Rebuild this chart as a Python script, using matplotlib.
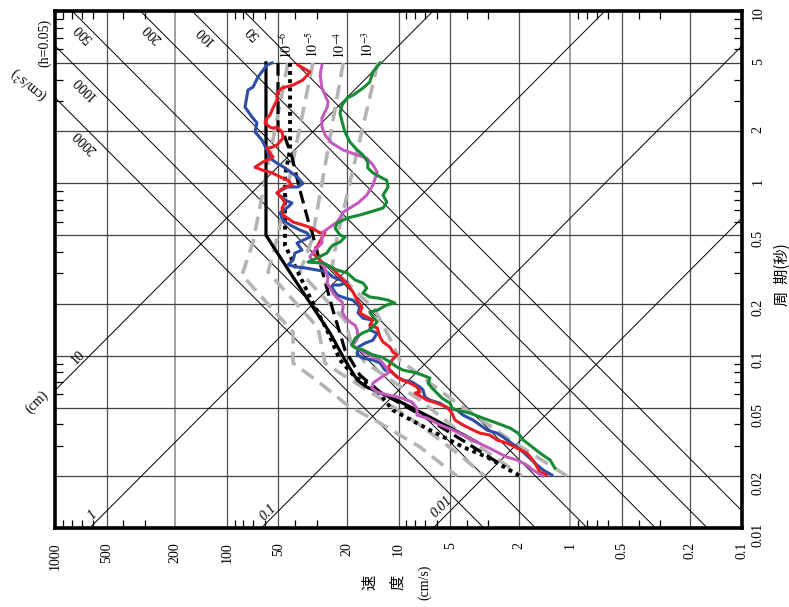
import numpy as np
import matplotlib
matplotlib.use("Agg")
import matplotlib.pyplot as plt
from matplotlib.ticker import LogLocator, NullFormatter

# 三重対数応答スペクトル (h=0.05)、図は90度回転した向き
plt.rcParams["font.family"] = ["Liberation Serif", "DejaVu Serif"]
plt.rcParams["mathtext.fontset"] = "stix"

# 軸目盛
vel_ticks = [1000, 500, 200, 100, 50, 20, 10, 5, 2, 1, 0.5, 0.2, 0.1]
vel_labels = ["1000", "500", "200", "100", "50", "20", "10", "5", "2", "1", "0.5", "0.2", "0.1"]
per_ticks = [10, 5, 2, 1, 0.5, 0.2, 0.1, 0.05, 0.02, 0.01]
per_labels = ["10", "5", "2", "1", "0.5", "0.2", "0.1", "0.05", "0.02", "0.01"]
vel_grid = [500, 200, 100, 50, 20, 10, 5, 2, 1, 0.5, 0.2]
per_grid = [5, 2, 1, 0.5, 0.2, 0.1, 0.05, 0.02]

# 斜線 (加速度 cm/s2, 変位 cm)
acc_lines = [50, 100, 200, 500, 1000, 2000]
disp_lines = [0.01, 0.1, 1, 10]

# 黒実線
black_solid_T = [5.0, 0.50, 0.374, 0.275, 0.191, 0.135, 0.0943, 0.0722, 0.0657, 0.0552, 0.0440, 0.0315]
black_solid_V = [59.1, 59.1, 49.0, 40.1, 31.5, 25.0, 20.5, 17.4, 15.3, 10.2, 6.56, 3.49]

# 黒破線
black_dash_T = [5.0, 2.04, 1.99, 1.42, 0.914, 0.558, 0.522, 0.314, 0.184, 0.108, 0.0772, 0.0615, 0.0423, 0.0303, 0.0226]
black_dash_V = [50.3, 50.3, 47.0, 41.7, 37.5, 32.8, 31.9, 27.9, 24.1, 20.5, 16.8, 12.8, 6.56, 3.83, 2.40]

# 黒点線
black_dot_T = [5.0, 1.56, 1.12, 0.438, 0.314, 0.219, 0.141, 0.0943, 0.0751, 0.0649, 0.0483, 0.0370, 0.0295, 0.0258, 0.0200]
black_dot_V = [42.8, 42.8, 45.8, 45.8, 39.0, 32.8, 26.1, 21.9, 17.9, 13.7, 10.8, 6.56, 4.21, 3.05, 1.96]

# 観測記録 (青)
blue_T = [5.0, 4.86, 4.14, 3.62, 3.48, 2.77, 2.43, 2.24, 1.99, 1.78, 1.56, 1.40, 1.31, 1.23, 1.09, 1.00,
          0.952, 0.952, 0.879, 0.800, 0.769, 0.729, 0.672, 0.612, 0.573, 0.536, 0.515, 0.488, 0.450, 0.410,
          0.394, 0.359, 0.336, 0.327, 0.323, 0.314, 0.306, 0.286, 0.275, 0.267, 0.257, 0.257, 0.247, 0.225,
          0.216, 0.210, 0.191, 0.177, 0.165, 0.161, 0.141, 0.135, 0.123, 0.118, 0.112, 0.101, 0.0969, 0.0943,
          0.0906, 0.0825, 0.0803, 0.0751, 0.0722, 0.0703, 0.0657, 0.0632, 0.0575, 0.0552, 0.0530, 0.0496,
          0.0483, 0.0452, 0.0423, 0.0396, 0.0370, 0.0355, 0.0337, 0.0315, 0.0295, 0.0276, 0.0254, 0.0232,
          0.0217, 0.0203]
blue_V = [54.5, 58.3, 65.8, 70.3, 75.2, 78.3, 71.3, 66.7, 68.5, 62.3, 58.3, 56.0, 51.0, 45.8, 39.0, 36.0,
          38.5, 44.6, 51.0, 45.8, 41.7, 44.0, 49.0, 47.0, 42.8, 37.5, 34.1, 32.8, 39.0, 36.5,
          40.1, 41.1, 44.0, 39.0, 35.0, 29.8, 26.1, 24.1, 21.9, 19.9, 21.9, 24.1, 24.4, 22.8,
          20.5, 18.4, 16.8, 17.2, 16.1, 14.3, 14.7, 13.3, 14.1, 15.7, 17.2, 17.4, 16.1, 14.1,
          12.8, 12.0, 10.9, 10.2, 9.41, 8.34, 7.50, 7.20, 7.01, 6.56, 5.73, 5.22,
          4.56, 4.21, 3.68, 3.35, 3.05, 2.67, 2.46, 2.24, 2.04, 1.88, 1.72, 1.56,
          1.44, 1.28]

# 観測記録 (赤)
red_T = [4.86, 4.43, 3.98, 3.72, 3.57, 3.34, 3.04, 2.74, 2.49, 2.39, 2.24, 2.12, 2.09, 2.12, 1.99, 1.83,
         1.67, 1.62, 1.60, 1.50, 1.42, 1.33, 1.24, 1.19, 1.15, 1.09, 1.04, 0.977, 0.939, 0.879, 0.822,
         0.769, 0.719, 0.655, 0.596, 0.573, 0.550, 0.515, 0.522, 0.438, 0.394, 0.349, 0.323, 0.275, 0.257,
         0.234, 0.210, 0.191, 0.177, 0.168, 0.161, 0.150, 0.145, 0.128, 0.120, 0.112, 0.105, 0.101,
         0.0943, 0.0847, 0.0772, 0.0722, 0.0693, 0.0657, 0.0615, 0.0607, 0.0575, 0.0552, 0.0530, 0.0503,
         0.0464, 0.0423, 0.0396, 0.0370, 0.0355, 0.0346, 0.0324, 0.0311, 0.0291, 0.0272, 0.0248, 0.0226,
         0.0211, 0.0203]
red_V = [38.5, 32.8, 36.0, 41.1, 47.7, 51.0, 51.0, 53.8, 56.0, 58.3, 59.9, 56.0, 53.8, 51.0, 47.7, 47.0,
         51.0, 54.5, 58.3, 56.0, 53.8, 61.5, 68.5, 61.5, 54.5, 49.0, 44.0, 41.7, 47.0, 51.0, 47.7,
         45.8, 47.7, 47.0, 41.1, 36.0, 31.9, 28.6, 26.8, 29.4, 31.5, 27.9, 24.4, 21.0, 19.7,
         18.4, 17.4, 16.3, 16.8, 15.3, 14.1, 14.7, 13.3, 12.8, 12.3, 11.2, 10.8, 10.2,
         10.9, 11.5, 10.5, 9.54, 8.57, 7.80, 7.50, 8.01, 7.30, 6.82, 5.97, 5.22,
         4.88, 4.69, 4.21, 3.68, 3.35, 2.93, 2.67, 2.34, 2.04, 1.79, 1.65, 1.56,
         1.50, 1.37]

# 観測記録 (マゼンタ)
mag_T = [4.86, 4.25, 3.57, 2.96, 2.74, 2.39, 2.12, 1.91, 1.71, 1.56, 1.46, 1.40, 1.28, 1.16, 0.977, 0.855,
         0.769, 0.719, 0.681, 0.629, 0.596, 0.558, 0.522, 0.481, 0.450, 0.410, 0.374, 0.349, 0.345, 0.323,
         0.282, 0.264, 0.247, 0.231, 0.216, 0.205, 0.191, 0.179, 0.168, 0.157, 0.150, 0.141, 0.128, 0.120,
         0.115, 0.111, 0.105, 0.0943, 0.0847, 0.0793, 0.0741, 0.0693, 0.0649, 0.0615, 0.0591, 0.0567,
         0.0538, 0.0496, 0.0452, 0.0434, 0.0396, 0.0370, 0.0337, 0.0315, 0.0295, 0.0276, 0.0258, 0.0248,
         0.0232, 0.0217, 0.0200]
mag_V = [27.9, 28.6, 27.9, 25.7, 26.1, 27.9, 27.9, 26.8, 24.4, 21.0, 17.4, 15.3, 14.1, 13.3, 14.1, 15.3,
         17.2, 19.2, 21.0, 21.9, 22.8, 25.0, 27.5, 27.9, 27.9, 30.6, 32.8, 31.5, 28.6, 26.8,
         25.7, 26.1, 25.0, 24.1, 22.8, 21.3, 21.0, 21.3, 20.5, 19.2, 17.9, 17.4, 17.2, 17.9,
         18.7, 17.4, 16.1, 12.8, 11.7, 11.5, 12.8, 14.1, 14.3, 13.3, 11.5, 9.54,
         8.34, 7.80, 7.80, 6.82, 5.73, 4.82, 3.99, 3.49, 3.05, 2.67, 2.34, 2.04,
         1.79, 1.65, 1.44]

# 観測記録 (緑)
grn_T = [5.0, 4.43, 3.87, 3.57, 3.25, 3.13, 2.85, 2.56, 2.27, 1.99, 1.74, 1.56, 1.46, 1.33, 1.23, 1.15,
         1.09, 1.04, 0.952, 0.855, 0.779, 0.719, 0.681, 0.655, 0.629, 0.588, 0.550, 0.501, 0.488, 0.456,
         0.438, 0.421, 0.394, 0.369, 0.349, 0.345, 0.314, 0.302, 0.275, 0.264, 0.247, 0.231, 0.219, 0.216,
         0.210, 0.202, 0.197, 0.184, 0.179, 0.168, 0.157, 0.141, 0.135, 0.126, 0.115, 0.111, 0.108, 0.101,
         0.0981, 0.0918, 0.0859, 0.0825, 0.0793, 0.0741, 0.0693, 0.0649, 0.0607, 0.0567, 0.0530, 0.0496,
         0.0483, 0.0464, 0.0434, 0.0406, 0.0380, 0.0355, 0.0324, 0.0303, 0.0272, 0.0248, 0.0223]
grn_V = [12.8, 14.1, 14.7, 16.1, 18.4, 19.9, 21.3, 21.9, 21.3, 20.5, 19.2, 17.4, 16.1, 15.1, 15.1, 14.1,
         12.8, 11.7, 11.5, 12.3, 11.7, 12.3, 14.7, 16.8, 19.9, 22.8, 23.4, 21.9, 20.5, 21.9,
         24.1, 25.0, 26.1, 29.8, 33.6, 27.5, 22.8, 19.9, 17.9, 16.1, 15.3, 16.1, 14.7, 13.2,
         11.5, 10.5, 11.7, 13.2, 14.7, 14.1, 13.3, 14.7, 16.3, 17.9, 18.7, 17.9, 16.1, 14.1,
         12.5, 11.2, 10.2, 9.41, 7.80, 6.56, 6.73, 6.38, 5.97, 5.58, 5.01, 4.88,
         4.56, 3.83, 3.22, 2.67, 2.24, 2.01, 1.88, 1.72, 1.50, 1.31, 1.23]

# 一様ハザードスペクトル (灰色破線) 10^-6 ~ 10^-3
uhs_labels = ["$10^{-6}$", "$10^{-5}$", "$10^{-4}$", "$10^{-3}$"]
uhs6_T = [5.0, 0.456, 0.294, 0.137, 0.0906, 0.0847, 0.0693, 0.0517, 0.0406, 0.0295, 0.0200]
uhs6_V = [44.0, 70.3, 81.5, 41.1, 41.1, 37.5, 28.6, 19.9, 12.8, 7.50, 4.56]
uhs5_T = [5.0, 0.501, 0.306, 0.145, 0.0906, 0.0793, 0.0567, 0.0396, 0.0265, 0.0200]
uhs5_V = [31.5, 50.3, 57.5, 29.4, 26.8, 21.9, 12.8, 7.50, 4.39, 3.14]
uhs4_T = [5.0, 0.469, 0.306, 0.161, 0.115, 0.0918, 0.0552, 0.0324, 0.0200]
uhs4_V = [21.0, 31.9, 37.5, 20.5, 18.7, 15.7, 7.50, 3.83, 1.91]
uhs3_T = [5.0, 0.481, 0.323, 0.184, 0.132, 0.0943, 0.0567, 0.0324, 0.0200]
uhs3_V = [13.2, 22.8, 24.4, 13.7, 11.5, 9.80, 5.01, 2.24, 1.04]

fig = plt.figure(figsize=(7.89, 6.07), dpi=100)
ax = fig.add_axes([55 / 789, 79 / 607, 687 / 789, 517 / 607])
ax.set_xscale("log")
ax.set_yscale("log")
ax.set_xlim(1000, 0.1)
ax.set_ylim(0.01, 10)

# グリッド
for v in vel_grid:
    light = v in (200, 1)
    ax.axvline(v, color="#a0a0a0" if light else "#505050", lw=1.4 if light else 0.9, zorder=1)
for t in per_grid:
    ax.axhline(t, color="#404040", lw=0.9, zorder=1)

# 加速度・変位の斜線
T = np.logspace(-2, 1, 300)
for a in acc_lines:
    ax.plot(a * T / (2 * np.pi), T, color="black", lw=0.7, zorder=2)
for d in disp_lines:
    ax.plot(2 * np.pi * d / T, T, color="black", lw=0.7, zorder=2)

# 灰色破線
gray = "#b4b4b4"
for tt, vv in [(uhs6_T, uhs6_V), (uhs5_T, uhs5_V), (uhs4_T, uhs4_V), (uhs3_T, uhs3_V)]:
    ax.plot(vv, tt, color=gray, lw=2.6, linestyle=(0, (4, 2.2)), zorder=3)

# 黒線
ax.plot(black_solid_V, black_solid_T, color="black", lw=2.3, zorder=4)
ax.plot(black_dash_V, black_dash_T, color="black", lw=2.3, linestyle=(0, (4, 2)), zorder=4)
ax.plot(black_dot_V, black_dot_T, color="black", lw=2.8, linestyle=(0, (1, 1.1)), zorder=4)

# 観測記録
ax.plot(blue_V, blue_T, color="#2e4ea6", lw=2.2, zorder=5)
ax.plot(red_V, red_T, color="#ec1c24", lw=2.2, zorder=5)
ax.plot(mag_V, mag_T, color="#c45cc0", lw=2.2, zorder=5)
ax.plot(grn_V, grn_T, color="#178a35", lw=2.2, zorder=5)

# 目盛
ax.set_xticks(vel_ticks, vel_labels)
ax.yaxis.tick_right()
ax.set_yticks(per_ticks, per_labels)
ax.xaxis.set_minor_locator(LogLocator(base=10, subs=[3, 4, 6, 7, 8, 9], numticks=30))
ax.yaxis.set_minor_locator(LogLocator(base=10, subs=[3, 4, 6, 7, 8, 9], numticks=30))
ax.xaxis.set_minor_formatter(NullFormatter())
ax.yaxis.set_minor_formatter(NullFormatter())
ax.tick_params(axis="x", which="major", length=0, pad=10, labelsize=10, labelrotation=90)
ax.tick_params(axis="y", which="major", length=0, pad=7, labelsize=10, labelrotation=90)
ax.tick_params(which="minor", direction="in", length=6, width=0.9,
               top=True, bottom=True, left=True, right=True)
for s in ax.spines.values():
    s.set_linewidth(2.6)

# 斜線のラベル
lab = dict(fontsize=10, ha="center", va="center", zorder=6)
ax.text(687, 7.45, "500", rotation=135, **lab)
ax.text(269, 7.45, "200", rotation=135, **lab)
ax.text(134, 7.26, "100", rotation=135, **lab)
ax.text(70.3, 7.45, "50", rotation=135, **lab)
ax.text(669, 3.57, "1000", rotation=135, **lab)
ax.text(669, 1.74, "2000", rotation=135, **lab)
ax.text(1398, 3.83, "(cm/s$^2$)", rotation=140, clip_on=False, **lab)
ax.text(1144, 6.52, "(h=0.05)", rotation=90, clip_on=False, **lab)
ax.text(735, 0.0969, "10", rotation=45, **lab)
ax.text(1273, 0.0538, "(cm)", rotation=45, clip_on=False, **lab)
ax.text(601, 0.0119, "1", rotation=45, style="italic", **lab)
ax.text(57.5, 0.0124, "0.1", rotation=45, style="italic", **lab)
ax.text(5.58, 0.0132, "0.01", rotation=45, style="italic", **lab)
for v, s in zip([44.6, 31.5, 21.9, 15.1], uhs_labels):
    ax.text(v, 6.35, s, rotation=90, **lab)

# 軸ラベル
cjk = ["Noto Sans CJK JP", "DejaVu Sans"]
fig.text(370 / 789, 1 - 582 / 607, "速", family=cjk, fontsize=11, rotation=90, ha="center", va="center")
fig.text(398 / 789, 1 - 582 / 607, "度", family=cjk, fontsize=11, rotation=90, ha="center", va="center")
fig.text(425 / 789, 1 - 582 / 607, "(cm/s)", fontsize=10, rotation=90, ha="center", va="center")
fig.text(782 / 789, 1 - 275 / 607, "周  期(秒)", family=cjk, fontsize=11, rotation=90,
         ha="center", va="center")

fig.savefig("out.png", dpi=100)
